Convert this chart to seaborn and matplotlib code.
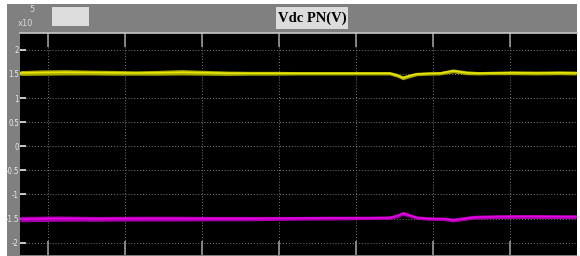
import matplotlib
matplotlib.use("Agg")
import matplotlib.pyplot as plt
from matplotlib import font_manager
from matplotlib.patches import Rectangle
import numpy as np
import pandas as pd
import seaborn as sns

# time axis in grid divisions (scope screen), values in x10^5 V
yellow_t = [0.0, 0.3, 0.6, 0.9, 1.2, 1.5, 1.8, 2.1, 2.4, 2.7, 3.0, 3.3, 3.6, 3.9, 4.2, 4.5,
            4.8, 4.9, 4.97, 5.05, 5.15, 5.3, 5.45, 5.62, 5.8, 5.95, 6.1, 6.4, 6.7, 7.0, 7.22]
yellow_v = [1.52, 1.53, 1.535, 1.53, 1.525, 1.52, 1.525, 1.535, 1.525, 1.515, 1.515, 1.515, 1.515, 1.515, 1.515, 1.515,
            1.515, 1.47, 1.42, 1.46, 1.50, 1.51, 1.515, 1.565, 1.525, 1.515, 1.52, 1.525, 1.52, 1.525, 1.52]
yellow_w = [0.05, 0.055, 0.055, 0.05, 0.05, 0.045, 0.05, 0.055, 0.05, 0.045, 0.04, 0.04, 0.035, 0.035, 0.035, 0.035,
            0.035, 0.04, 0.04, 0.04, 0.035, 0.035, 0.035, 0.04, 0.04, 0.035, 0.035, 0.04, 0.04, 0.04, 0.04]

magenta_t = [0.0, 0.5, 1.0, 1.5, 2.0, 2.5, 3.0, 3.5, 4.0, 4.5, 4.8, 4.9, 4.97, 5.05, 5.15, 5.3,
             5.5, 5.62, 5.75, 5.9, 6.2, 6.6, 7.0, 7.22]
magenta_v = [-1.51, -1.50, -1.505, -1.50, -1.50, -1.50, -1.50, -1.495, -1.49, -1.485, -1.48, -1.44, -1.39, -1.43, -1.48, -1.50,
             -1.505, -1.53, -1.50, -1.47, -1.46, -1.455, -1.46, -1.46]
magenta_w = [0.055, 0.055, 0.05, 0.05, 0.05, 0.045, 0.045, 0.04, 0.04, 0.035, 0.035, 0.04, 0.04, 0.04, 0.035, 0.035,
             0.035, 0.04, 0.04, 0.04, 0.04, 0.04, 0.04, 0.04]

y_ticks = [2, 1.5, 1, 0.5, 0, -0.5, -1, -1.5, -2]
y_labels = ["2", "1.5", "1", "0.5", "0", "-0.5", "-1", "-1.5", "-2"]
x_grid = [0.36, 1.36, 2.36, 3.36, 4.36, 5.36, 6.36]

# scope labels are very narrow; use a condensed face if one is installed
narrow = None
for f in font_manager.fontManager.ttflist:
    if ("Narrow" in f.name or "Condensed" in f.name or f.stretch in ("condensed", "semi-condensed")) \
            and f.style == "normal" and f.weight in (400, "normal"):
        narrow = f
        break

W, H = 580, 256
fig = plt.figure(figsize=(W / 100, H / 100), dpi=100, facecolor="white")

# grey scope frame and header boxes
fig.add_artist(Rectangle((7 / W, 0), 570 / W, 252 / H, transform=fig.transFigure,
                         facecolor="#808080", edgecolor="none", zorder=0))
fig.add_artist(Rectangle((52 / W, 1 - 26 / H), 37 / W, 19 / H, transform=fig.transFigure,
                         facecolor="#dcdcdc", edgecolor="none", zorder=1))
fig.add_artist(Rectangle((276 / W, 1 - 29 / H), 72 / W, 22 / H, transform=fig.transFigure,
                         facecolor="#dcdcdc", edgecolor="none", zorder=1))
fig.text(312 / W, 1 - 18 / H, "Vdc PN(V)", ha="center", va="center", fontsize=10.5,
         fontweight="bold", family=["Liberation Serif", "DejaVu Serif"], color="black", zorder=2)
fig.text(18 / W, 1 - 28 / H, "x10", fontsize=6, color="#d8d8d8", ha="left", va="bottom")
fig.text(29 / W, 1 - 14 / H, "5", fontsize=6, color="#d8d8d8", ha="left", va="bottom")

ax = fig.add_axes([20 / W, 1 / H, 557 / W, 222 / H])
ax.set_facecolor("black")

df_y = pd.DataFrame({"t": yellow_t, "v": yellow_v})
df_m = pd.DataFrame({"t": magenta_t, "v": magenta_v})

ax.fill_between(yellow_t, np.array(yellow_v) - np.array(yellow_w), np.array(yellow_v) + np.array(yellow_w),
                color="#a8a800", linewidth=0, zorder=3)
sns.lineplot(data=df_y, x="t", y="v", ax=ax, color="#e6e600", linewidth=1.2, zorder=4)
ax.fill_between(magenta_t, np.array(magenta_v) - np.array(magenta_w), np.array(magenta_v) + np.array(magenta_w),
                color="#a800a8", linewidth=0, zorder=3)
sns.lineplot(data=df_m, x="t", y="v", ax=ax, color="#e600e6", linewidth=1.2, zorder=4)

ax.set_xlim(0, 7.23)
ax.set_ylim(-2.255, 2.35)
ax.set_xticks(x_grid)
ax.set_yticks(y_ticks)
ax.set_yticklabels(y_labels)
ax.set_xlabel("")
ax.set_ylabel("")

ax.grid(True, color="#7a7a7a", linestyle=(0, (1, 2)), linewidth=0.7, zorder=1)
ax.tick_params(axis="x", direction="in", length=10, width=1.2, color="#9a9a9a",
               top=True, bottom=True, labelbottom=False)
ax.tick_params(axis="y", direction="in", length=4.5, width=1.2, color="#e8e8e8",
               left=True, labelcolor="#ececec", pad=0.8)
for lab in ax.get_yticklabels():
    if narrow is not None:
        lab.set_fontproperties(font_manager.FontProperties(fname=narrow.fname, size=5.5))
    else:
        lab.set_family(["Liberation Sans", "DejaVu Sans"])
        lab.set_fontsize(5)

for side in ["left", "right", "bottom"]:
    ax.spines[side].set_visible(False)
ax.spines["top"].set_color("#c8c8c8")
ax.spines["top"].set_linewidth(1.2)

fig.savefig("out.png", dpi=100, facecolor="white")
